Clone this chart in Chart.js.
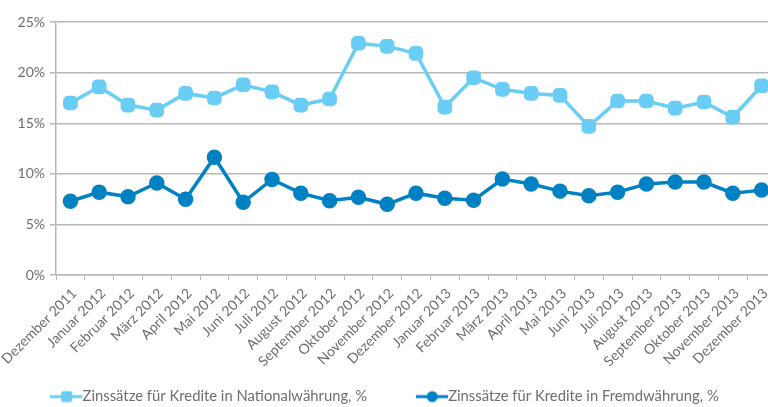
<!DOCTYPE html>
<html>
<head>
<meta charset="utf-8">
<script src="https://cdn.jsdelivr.net/npm/chart.js@4.4.1/dist/chart.umd.min.js"></script>
<style>
  html, body { margin: 0; padding: 0; background: #fff; overflow: hidden; }
  #wrap { width: 796px; height: 407px; margin-left: -10px; }
</style>
</head>
<body>
<div id="wrap"><canvas id="chart"></canvas></div>
<script>
// Data
const months = ['Dezember 2011', 'Januar 2012', 'Februar 2012', 'März 2012', 'April 2012', 'Mai 2012',
  'Juni 2012', 'Juli 2012', 'August 2012', 'September 2012', 'Oktober 2012', 'November 2012',
  'Dezember 2012', 'Januar 2013', 'Februar 2013', 'März 2013', 'April 2013', 'Mai 2013',
  'Juni 2013', 'Juli 2013', 'August 2013', 'September 2013', 'Oktober 2013', 'November 2013',
  'Dezember 2013'];
const national = [17.0, 18.6, 16.8, 16.3, 17.95, 17.5, 18.8, 18.1, 16.8, 17.4, 22.9, 22.6,
  21.9, 16.6, 19.5, 18.35, 17.95, 17.75, 14.7, 17.2, 17.2, 16.5, 17.1, 15.6, 18.7];
const foreign = [7.3, 8.2, 7.75, 9.1, 7.5, 11.65, 7.2, 9.45, 8.1, 7.35, 7.7, 7.0,
  8.1, 7.6, 7.4, 9.5, 9.0, 8.3, 7.85, 8.2, 9.0, 9.2, 9.2, 8.1, 8.4];
const yTicks = [0, 5, 10, 15, 20, 25];

const lightBlue = '#6acdf5';
const darkBlue = '#0081c4';
const textGrey = '#6d6e71';
const gridGrey = '#b8b8b8';

// small legend icon: line with the marker in the middle
function legendIcon(color, square) {
  const c = document.createElement('canvas');
  c.width = 32; c.height = 14;
  const g = c.getContext('2d');
  g.strokeStyle = color;
  g.lineWidth = 3;
  g.beginPath(); g.moveTo(0, 7); g.lineTo(32, 7); g.stroke();
  g.fillStyle = color;
  if (square) {
    g.beginPath();
    g.roundRect(11, 1.5, 11, 11, 2);
    g.fill();
  } else {
    g.beginPath(); g.arc(16.5, 7, 5.5, 0, Math.PI * 2); g.fill();
  }
  return c;
}

const ctx = document.getElementById('chart').getContext('2d');
new Chart(ctx, {
  type: 'line',
  data: {
    labels: months,
    datasets: [{
      label: 'Zinssätze für Kredite in Nationalwährung, %',
      data: national,
      borderColor: lightBlue,
      backgroundColor: lightBlue,
      borderWidth: 3.5,
      pointStyle: 'rectRounded',
      pointRadius: 6.5,
      pointHoverRadius: 6.5,
      tension: 0
    }, {
      label: 'Zinssätze für Kredite in Fremdwährung, %',
      data: foreign,
      borderColor: darkBlue,
      backgroundColor: darkBlue,
      borderWidth: 3.5,
      pointStyle: 'circle',
      pointRadius: 6,
      pointHoverRadius: 6,
      tension: 0
    }]
  },
  options: {
    responsive: true,
    maintainAspectRatio: false,
    animation: false,
    layout: { padding: { top: 22, left: 0, right: 0, bottom: -7 } },
    plugins: {
      tooltip: { enabled: false },
      legend: {
        position: 'bottom',
        onClick: null,
        labels: {
          usePointStyle: true,
          pointStyleWidth: 18,
          padding: 2,
          color: textGrey,
          font: { family: 'Lato', size: 14.8 },
          generateLabels: function (chart) {
            return chart.data.datasets.map(function (ds, i) {
              return {
                // trailing spaces widen the gap between the two entries
                text: i === 0 ? ds.label + '\u2003\u2003\u2003\u2003\u2002\u2009' : ds.label,
                pointStyle: legendIcon(ds.borderColor, i === 0),
                fillStyle: ds.borderColor,
                strokeStyle: ds.borderColor,
                lineWidth: 0,
                hidden: false,
                datasetIndex: i,
                fontColor: textGrey
              };
            });
          }
        }
      }
    },
    scales: {
      x: {
        offset: true,
        afterFit: function (scale) { scale.height = 112; },
        grid: {
          offset: true,
          drawOnChartArea: false,
          drawTicks: true,
          tickLength: 5,
          color: gridGrey
        },
        border: { color: gridGrey, width: 1.5 },
        ticks: {
          autoSkip: false,
          maxRotation: 45,
          minRotation: 45,
          color: textGrey,
          padding: 5,
          labelOffset: 4,
          font: { family: 'Lato', size: 14 }
        }
      },
      y: {
        min: 0,
        max: 25,
        afterFit: function (scale) { scale.width = 66; },
        afterBuildTicks: function (scale) {
          scale.ticks = yTicks.map(function (v) { return { value: v }; });
        },
        grid: {
          color: gridGrey,
          lineWidth: 1.5,
          tickLength: 6
        },
        border: { color: gridGrey, width: 1.5 },
        ticks: {
          color: textGrey,
          padding: 5,
          font: { family: 'Lato', size: 14 },
          callback: function (v) { return v + '%'; }
        }
      }
    }
  }
});
</script>
</body>
</html>
